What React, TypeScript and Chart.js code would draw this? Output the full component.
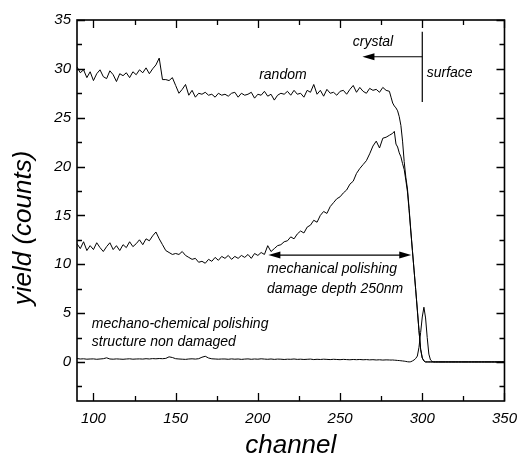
import React, { useEffect, useRef } from "react";
import { Chart, registerables } from "chart.js";

Chart.register(...registerables);

// ---------- data ----------
const channels = [
  90, 92, 94, 96, 98, 100, 102, 104, 106, 108, 110, 112, 114, 116, 118, 120, 122, 124, 126, 128, 130, 132, 134, 136, 138,
  140, 142, 144, 146, 148, 150, 152, 154, 156, 158, 160, 162, 164, 166, 168, 170, 172, 174, 176, 178,
  180, 182, 184, 186, 188, 190, 192, 194, 196, 198, 200, 202, 204, 206, 208, 210, 212, 214, 216, 218,
  220, 222, 224, 226, 228, 230, 232, 234, 236, 238, 240, 242, 244, 246, 248, 250, 252, 254, 256, 258,
  260, 262, 264, 266, 268, 270, 272, 274, 276, 278,
  280, 281, 282, 283, 284, 285, 286, 287, 288, 289, 290, 291, 292, 293, 294, 295, 296, 297, 298, 299, 300,
  301, 302, 303, 304, 305, 306, 307, 308, 309, 310,
  312, 314, 316, 318, 320, 322, 324, 326, 328, 330, 332, 334, 336, 338, 340, 342, 344, 346, 348, 350,
];

const randomYield = [
  30.2, 29.6, 29.9, 29.1, 29.7, 28.8, 29.5, 29.9, 29.2, 29.0, 29.8, 29.4, 28.7, 29.5, 29.3, 29.6, 29.1, 29.7, 29.4, 29.9, 29.6, 30.1, 29.5, 30.0, 30.4,
  31.1, 28.9, 28.9, 28.8, 29.1, 28.3, 27.5, 27.9, 28.4, 27.3, 27.8, 27.1, 27.5, 27.4, 27.6, 27.3, 27.4, 27.1, 27.5, 27.3,
  27.4, 27.2, 27.5, 27.6, 27.1, 27.5, 27.3, 27.4, 27.6, 27.0, 27.4, 27.3, 27.7, 27.2, 27.4, 26.8, 27.3, 27.5, 27.4, 27.7,
  27.3, 27.8, 27.4, 27.5, 27.1, 27.8, 27.6, 28.4, 27.4, 27.8, 27.2, 27.9, 27.5, 27.6, 27.3, 27.7, 27.8, 27.4, 27.9, 28.3,
  27.6, 28.1, 27.7, 27.5, 28.0, 27.8, 27.9, 27.6, 28.1, 27.8,
  27.7, 27.1, 26.5, 26.2, 26.0, 25.7, 25.1, 24.2, 22.6, 20.5, 18.9, 17.7, 15.7, 13.5, 11.4, 9.4, 7.4, 5.3, 3.2, 1.3, 0.4,
  0.1, 0, 0, 0, 0, 0, 0, 0, 0, 0,
  0, 0, 0, 0, 0, 0, 0, 0, 0, 0, 0, 0, 0, 0, 0, 0, 0, 0, 0, 0,
];

const mechanicalYield = [
  12.1, 11.6, 12.3, 11.4, 11.9, 11.5, 12.2, 11.7, 11.3, 11.8, 12.2, 11.5, 11.9, 11.4, 12.0, 11.7, 12.3, 11.8, 12.1, 12.5, 12.0, 12.6, 12.4, 12.9, 13.3,
  12.6, 12.0, 11.4, 11.2, 11.0, 11.1, 11.0, 11.3, 10.9, 10.7, 10.5, 10.6, 10.2, 10.3, 10.1, 10.5, 10.3, 10.7, 10.4, 10.8,
  10.6, 10.9, 10.5, 10.8, 10.6, 10.9, 10.7, 11.0, 10.6, 11.1, 10.9, 11.2, 11.0, 11.9, 11.3, 11.6, 11.9, 12.0, 12.3, 12.4,
  12.8, 12.6, 13.1, 13.4, 13.2, 13.8, 14.0, 14.5, 14.3, 15.0, 15.4, 15.2, 15.9, 16.3, 16.7, 16.9, 17.3, 17.6, 18.2, 18.5,
  19.3, 19.8, 20.2, 20.6, 21.3, 22.1, 22.6, 21.9, 22.9, 23.0,
  23.2, 23.3, 23.4, 23.6, 22.3, 22.0, 21.4, 21.0, 20.3, 19.7, 18.6, 17.4, 15.5, 13.4, 11.4, 9.4, 7.4, 5.3, 3.2, 1.3, 0.4,
  0.1, 0, 0, 0, 0, 0, 0, 0, 0, 0,
  0, 0, 0, 0, 0, 0, 0, 0, 0, 0, 0, 0, 0, 0, 0, 0, 0, 0, 0, 0,
];

const chemicalYield = [
  0.35, 0.30, 0.32, 0.28, 0.30, 0.31, 0.27, 0.30, 0.33, 0.42, 0.30, 0.28, 0.31, 0.29, 0.27, 0.30, 0.32, 0.28, 0.30, 0.31, 0.29, 0.33, 0.30, 0.34, 0.32,
  0.35, 0.33, 0.36, 0.52, 0.45, 0.33, 0.30, 0.28, 0.26, 0.30, 0.32, 0.29, 0.33, 0.48, 0.58, 0.40, 0.32, 0.30, 0.28, 0.30,
  0.30, 0.27, 0.31, 0.28, 0.30, 0.26, 0.29, 0.31, 0.27, 0.30, 0.28, 0.32, 0.29, 0.27, 0.30, 0.26, 0.29, 0.28, 0.25, 0.28,
  0.27, 0.30, 0.26, 0.28, 0.25, 0.27, 0.29, 0.24, 0.27, 0.25, 0.28, 0.26, 0.24, 0.27, 0.25, 0.23, 0.26, 0.24, 0.22, 0.25,
  0.23, 0.25, 0.22, 0.24, 0.21, 0.23, 0.20, 0.22, 0.19, 0.21,
  0.20, 0.19, 0.20, 0.18, 0.17, 0.15, 0.14, 0.12, 0.10, 0.08, 0.05, 0.02, 0.00, 0.02, 0.10, 0.20, 0.35, 0.60, 1.50, 3.00, 4.60,
  5.60, 4.50, 2.50, 0.80, 0.20, 0.05, 0, 0, 0, 0,
  0, 0, 0, 0, 0, 0, 0, 0, 0, 0, 0, 0, 0, 0, 0, 0, 0, 0, 0, 0,
];

const xMajorTicks = [100, 150, 200, 250, 300, 350];
const xMinorTicks = [125, 175, 225, 275, 325];
const yMajorTicks = [0, 5, 10, 15, 20, 25, 30, 35];
const yMinorTicks = [-2.5, 2.5, 7.5, 12.5, 17.5, 22.5, 27.5, 32.5];

const noteTexts = [
  "random",
  "crystal",
  "surface",
  "mechanical polishing",
  "damage depth 250nm",
  "mechano-chemical polishing",
  "structure non damaged",
];
const noteX = [200.8, 257.7, 302.7, 205.6, 205.6, 99.0, 99.0];
const noteY = [28.93, 32.34, 29.19, 9.13, 7.08, 3.44, 1.63];

const xTitle = "channel";
const yTitle = "yield (counts)";

// ---------- drawing helpers ----------
const FONT = '"Liberation Sans", Arial, Helvetica, sans-serif';

function arrowHead(ctx: CanvasRenderingContext2D, tipX: number, tipY: number, dir: number) {
  const len = 12;
  const half = 3.5;
  ctx.beginPath();
  ctx.moveTo(tipX, tipY);
  ctx.lineTo(tipX - dir * len, tipY - half);
  ctx.lineTo(tipX - dir * len, tipY + half);
  ctx.closePath();
  ctx.fill();
}

const decorPlugin = {
  id: "decor",
  afterDraw(chart: any) {
    const ctx: CanvasRenderingContext2D = chart.ctx;
    const a = chart.chartArea;
    const xs = chart.scales.x;
    const ys = chart.scales.y;
    ctx.save();
    ctx.strokeStyle = "#000";
    ctx.fillStyle = "#000";

    // frame
    ctx.lineWidth = 1.6;
    ctx.strokeRect(a.left, a.top, a.right - a.left, a.bottom - a.top);

    // inner ticks
    ctx.lineWidth = 1.3;
    const drawX = (v: number, len: number) => {
      const px = Math.round(xs.getPixelForValue(v)) + 0.5;
      ctx.beginPath();
      ctx.moveTo(px, a.bottom);
      ctx.lineTo(px, a.bottom - len);
      ctx.moveTo(px, a.top);
      ctx.lineTo(px, a.top + len);
      ctx.stroke();
    };
    const drawY = (v: number, len: number) => {
      const py = Math.round(ys.getPixelForValue(v)) + 0.5;
      ctx.beginPath();
      ctx.moveTo(a.left, py);
      ctx.lineTo(a.left + len, py);
      ctx.moveTo(a.right, py);
      ctx.lineTo(a.right - len, py);
      ctx.stroke();
    };
    xMajorTicks.forEach((v) => drawX(v, 8));
    xMinorTicks.forEach((v) => drawX(v, 5));
    yMajorTicks.forEach((v) => drawY(v, 8));
    yMinorTicks.forEach((v) => drawY(v, 5));

    // annotation lines
    ctx.lineWidth = 1.2;
    const vx = xs.getPixelForValue(300);
    ctx.beginPath();
    ctx.moveTo(vx, ys.getPixelForValue(33.8));
    ctx.lineTo(vx, ys.getPixelForValue(26.6));
    ctx.stroke();

    const ay = ys.getPixelForValue(31.24);
    const aTip = xs.getPixelForValue(263.6);
    ctx.beginPath();
    ctx.moveTo(vx, ay);
    ctx.lineTo(aTip + 6, ay);
    ctx.stroke();
    arrowHead(ctx, aTip, ay, -1);

    const dy = ys.getPixelForValue(10.94);
    const dL = xs.getPixelForValue(206.4);
    const dR = xs.getPixelForValue(293.3);
    ctx.beginPath();
    ctx.moveTo(dL + 6, dy);
    ctx.lineTo(dR - 6, dy);
    ctx.stroke();
    arrowHead(ctx, dL, dy, -1);
    arrowHead(ctx, dR, dy, 1);

    // annotation texts
    ctx.font = `italic 14px ${FONT}`;
    ctx.textAlign = "left";
    ctx.textBaseline = "alphabetic";
    noteTexts.forEach((t, i) => {
      ctx.fillText(t, xs.getPixelForValue(noteX[i]), ys.getPixelForValue(noteY[i]));
    });

    // axis titles
    ctx.font = `italic 26px ${FONT}`;
    ctx.textAlign = "center";
    ctx.textBaseline = "alphabetic";
    ctx.fillText(xTitle, (a.left + a.right) / 2, 453);

    ctx.save();
    ctx.translate(31, 228);
    ctx.rotate(-Math.PI / 2);
    ctx.fillText(yTitle, 0, 0);
    ctx.restore();

    ctx.restore();
  },
};

export default function App() {
  const ref = useRef<HTMLCanvasElement | null>(null);

  useEffect(() => {
    document.body.style.margin = "0";
    const canvas = ref.current;
    if (!canvas) return;

    const mk = (vals: number[]) => channels.map((c, i) => ({ x: c, y: vals[i] }));
    const lineStyle = {
      borderColor: "#000",
      borderWidth: 1,
      pointRadius: 0,
      fill: false,
      tension: 0,
    };

    const chart = new Chart(canvas, {
      type: "line",
      data: {
        datasets: [
          { label: "random", data: mk(randomYield), ...lineStyle },
          { label: "mechanical polishing", data: mk(mechanicalYield), ...lineStyle },
          { label: "mechano-chemical polishing", data: mk(chemicalYield), ...lineStyle },
        ],
      },
      options: {
        animation: false,
        responsive: false,
        devicePixelRatio: 1,
        layout: { padding: { left: 0, top: 20, right: 15, bottom: 0 } },
        plugins: { legend: { display: false }, tooltip: { enabled: false } },
        scales: {
          x: {
            type: "linear",
            min: 90,
            max: 350,
            grid: { display: false, drawTicks: false },
            border: { display: false },
            ticks: {
              color: "#000",
              padding: 9,
              font: { family: FONT, size: 15, style: "italic" },
              maxRotation: 0,
            },
            afterBuildTicks: (axis: any) => {
              axis.ticks = xMajorTicks.map((v) => ({ value: v }));
            },
            afterFit: (axis: any) => {
              axis.height = 61;
            },
          },
          y: {
            type: "linear",
            min: -4,
            max: 35,
            grid: { display: false, drawTicks: false },
            border: { display: false },
            ticks: {
              color: "#000",
              padding: 6,
              font: { family: FONT, size: 15, style: "italic" },
            },
            afterBuildTicks: (axis: any) => {
              axis.ticks = yMajorTicks.map((v) => ({ value: v }));
            },
            afterFit: (axis: any) => {
              axis.width = 77;
            },
          },
        },
      },
      plugins: [decorPlugin],
    });

    return () => chart.destroy();
  }, []);

  return (
    <div style={{ width: 526, height: 462, background: "#fff" }}>
      <canvas ref={ref} width={526} height={462} style={{ display: "block" }} />
    </div>
  );
}
